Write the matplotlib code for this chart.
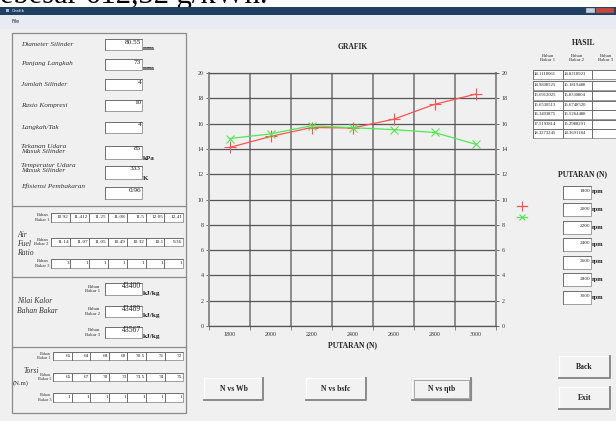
import numpy as np
import matplotlib.pyplot as plt
from matplotlib.patches import Rectangle

W, H = 616, 421
BG = '#f0f0f0'
plt.rcParams['font.family'] = ['Liberation Serif', 'DejaVu Serif']

# chart data (efisiensi vs putaran)
putaran = [1800, 2000, 2200, 2400, 2600, 2800, 3000]
eff_bb1 = [14.1110061, 14.9808525, 15.6912025, 15.6530513, 16.3403875, 17.5193814, 18.3273245]
eff_bb2 = [14.8218921, 15.1819488, 15.8330804, 15.6748520, 15.5264488, 15.2988291, 14.3691184]

# input panel values
param_labels = ['Diameter Silinder', 'Panjang Langkah', 'Jumlah Silinder', 'Rasio Kompresi',
                'Langkah/Tak', 'Tekanan Udara\nMasuk Silinder', 'Temperatur Udara\nMasuk Silinder',
                'Efisiensi Pembakaran']
param_values = ['80.55', '73', '4', '10', '4', '85', '333', '0.96']
param_units = ['mm', 'mm', '', '', '', 'kPa', 'K', '']
afr_bb1 = [10.92, 11.412, 11.25, 11.08, 11.5, 12.05, 12.41]
afr_bb2 = [11.14, 11.07, 11.05, 10.49, 10.32, 10.1, 9.36]
afr_bb3 = [3, 1, 1, 1, 1, 1, 1]
nilai_kalor = [43400, 43489, 43567]
torsi_bb1 = [65, 64, 68, 69, 70.5, 71, 72]
torsi_bb2 = [65, 67, 70, 73, 73.5, 74, 75]
torsi_bb3 = [1, 1, 1, 1, 1, 1, 1]

fig = plt.figure(figsize=(W / 100, H / 100), dpi=100, facecolor=BG)
bg = fig.add_axes([0, 0, 1, 1])
bg.set_xlim(0, W)
bg.set_ylim(H, 0)
bg.axis('off')


def box(x0, y0, x1, y1, txt='', fs=5, clip=False, ha='right'):
    r = Rectangle((x0, y0), x1 - x0, y1 - y0, fc='white', ec='#8f8f8f', lw=0.6)
    bg.add_patch(r)
    bg.plot([x0, x0, x1], [y1, y0, y0], color='#6a6a6a', lw=0.6)
    if txt:
        xt = x1 - 1 if ha == 'right' else x0 + 1
        t = bg.text(xt, y0 + (y1 - y0) * 0.45, txt, ha=ha, va='center', fontsize=fs, color='#222')
        if clip:
            t.set_clip_path(r)


def button(x0, y0, x1, y1, txt, pressed=False):
    bg.add_patch(Rectangle((x0, y0), x1 - x0, y1 - y0, fc='#f2f2f2', ec='none'))
    bg.plot([x0, x0, x1], [y1, y0, y0], color='white', lw=1.0)
    bg.plot([x0, x1, x1], [y1, y1, y0], color='#8a8a8a', lw=1.4)
    if pressed:
        bg.add_patch(Rectangle((x0, y0), x1 - x0, y1 - y0, fc='none', ec='#555', lw=0.8))
        bg.add_patch(Rectangle((x0 + 2, y0 + 2), x1 - x0 - 4, y1 - y0 - 4, fc='none', ec='#888', lw=0.5))
    bg.text((x0 + x1) / 2, (y0 + y1) / 2, txt, ha='center', va='center', fontsize=5.5, weight='bold', color='#222')


def bahan(x, y, n, fs=3.3):
    bg.text(x, y, 'Bahan\nBakar ' + str(n), ha='right', va='center', fontsize=fs, color='#333', linespacing=1.1)


# top strip with cut-off document text
bg.add_patch(Rectangle((0, 0), W, 7, fc='white', ec='none', zorder=0))
bg.text(-12, 3.5, 'sebesar 612,32 g/kWh.', fontsize=22, va='baseline', ha='left', color='black',
        zorder=1, clip_on=True)
# title bar and menu
bg.add_patch(Rectangle((0, 6.5), W, 8.5, fc='#1f4060', ec='none', zorder=2))
bg.add_patch(Rectangle((6, 9), 3, 3, fc='#9fc0e0', ec='none', zorder=3))
bg.text(12, 10.8, 'Grafik', fontsize=3.2, color='white', va='center', family='DejaVu Sans', zorder=3)
bg.add_patch(Rectangle((586, 8), 9, 5, fc='#c8d0da', ec='#556', lw=0.3, zorder=3))
bg.add_patch(Rectangle((596, 8), 18, 5, fc='#c8463c', ec='#556', lw=0.3, zorder=3))
bg.add_patch(Rectangle((0, 15), W, 14, fc='#e8ebf2', ec='none', zorder=2))
bg.text(12, 21.5, 'File', fontsize=3.5, color='#222', va='center', family='DejaVu Sans', zorder=3)

# left panel
bg.add_patch(Rectangle((12, 33), 174, 380, fc='none', ec='#8a8a8a', lw=0.9))
for ys in [206, 277, 347]:
    bg.plot([12, 186], [ys, ys], color='#8a8a8a', lw=0.9)

label_y = [44, 64, 84, 105, 127, 149, 168, 186]
box_y = [(39, 50), (59, 70), (79, 90), (100, 111), (122, 133), (146, 159), (166, 179), (187, 199)]
for lab, val, unit, ly, (y0, y1) in zip(param_labels, param_values, param_units, label_y, box_y):
    bg.text(21, ly, lab, fontsize=5.2, style='italic', va='center', color='#333', linespacing=1.2)
    bg.add_patch(Rectangle((105, y0), 37, y1 - y0, fc='white', ec='#8f8f8f', lw=0.6))
    bg.plot([105, 105, 142], [y1, y0, y0], color='#6a6a6a', lw=0.6)
    bg.text(141, y0 + 3, val, ha='right', va='center', fontsize=5.2, color='#222')
    if unit:
        bg.text(143, y1 - 1, unit, ha='left', va='center', fontsize=5, weight='bold', color='#222')


def row7(vals, y0, y1, x0=51, w=18.9):
    for i, v in enumerate(vals):
        box(x0 + i * w, y0, x0 + (i + 1) * w, y1, '{:g}'.format(v), fs=3.8)


# air fuel ratio
row7(afr_bb1, 213, 222)
row7(afr_bb2, 238, 246)
row7(afr_bb3, 259, 268)
bahan(49, 217.5, 1)
bahan(49, 242, 2)
bahan(49, 263.5, 3)
bg.text(17, 235, 'Air', fontsize=5.5, style='italic', va='center', color='#333')
bg.text(17, 244, 'Fuel', fontsize=5.5, style='italic', va='center', color='#333')
bg.text(17, 253, 'Ratio', fontsize=5.5, style='italic', va='center', color='#333')

# nilai kalor
for k, (v, (y0, y1)) in enumerate(zip(nilai_kalor, [(283, 295), (306, 317), (327, 338)])):
    bahan(100, (y0 + y1) / 2, k + 1, fs=3.5)
    box(105, y0, 142, y1)
    bg.text(141, y0 + 3, str(v), ha='right', va='center', fontsize=5.5, color='#222')
    bg.text(143, y1 - 1.5, 'kJ/kg', ha='left', va='center', fontsize=5.3, weight='bold', color='#222')
bg.text(17, 306, 'Nilai Kalor\nBahan Bakar', fontsize=5.5, style='italic', va='center', color='#333', linespacing=1.2)

# torsi
row7(torsi_bb1, 352, 360, x0=53, w=18.6)
row7(torsi_bb2, 373, 381, x0=53, w=18.6)
row7(torsi_bb3, 393, 402, x0=53, w=18.6)
bahan(51, 356, 1, fs=3.1)
bahan(51, 377, 2, fs=3.1)
bahan(51, 397.5, 3, fs=3.1)
bg.text(24, 371, 'Torsi', fontsize=5.5, style='italic', va='center', color='#333')
bg.text(13, 383, '(N.m)', fontsize=4.8, va='center', color='#333')

# chart
ax = fig.add_axes([209 / W, 1 - 326 / H, (496 - 209) / W, (326 - 73) / H])
ax.set_facecolor(BG)
x = np.arange(len(putaran)) + 0.5
l1, = ax.plot(x, eff_bb1, color='#ff5252', marker='+', ms=8, mew=0.8, lw=0.9, zorder=3)
l2, = ax.plot(x, eff_bb2, color='#52e852', marker='x', ms=5.5, mew=0.8, lw=0.9, zorder=3)
ax.set_xlim(0, 7)
ax.set_ylim(0, 20)
ax.set_xticks(x)
ax.set_xticklabels([str(p) for p in putaran])
ax.set_xticks(range(8), minor=True)
ax.tick_params(axis='x', which='major', length=0, labelsize=4.3, pad=4, colors='#333')
ax.tick_params(axis='x', which='minor', length=3, width=0.6, color='#777')
ax.set_yticks(range(0, 21, 2))
ax.tick_params(axis='y', left=True, right=True, labelleft=True, labelright=True,
               length=2, width=0.5, labelsize=4.3, pad=2, colors='#333')
ax.grid(which='minor', axis='x', color='#8c8c8c', lw=1.4)
ax.grid(which='major', axis='y', color='#555555', lw=0.9)
ax.grid(which='major', axis='x', visible=False)
for s in ['left', 'right']:
    ax.spines[s].set_color('#8c8c8c')
    ax.spines[s].set_linewidth(1.4)
for s in ['top', 'bottom']:
    ax.spines[s].set_color('#555555')
    ax.spines[s].set_linewidth(0.9)
ax.set_xlabel('PUTARAN (N)', fontsize=5.5, weight='bold', labelpad=3, color='#222')
ax.set_title('GRAFIK', fontsize=5.5, weight='bold', pad=17, color='#222')
ax.legend([l1, l2], ['', ''], loc='upper left', bbox_to_anchor=(511 / W, 1 - 197 / H),
          bbox_transform=fig.transFigure, frameon=False, handlelength=1.4, handletextpad=0,
          labelspacing=0.75, fontsize=5, markerscale=0.85)

# right panel: hasil table
bg.text(584, 43, 'HASIL', ha='center', va='center', fontsize=5.5, weight='bold', color='#222')
for cx, n in [(548, 1), (577, 2), (606, 3)]:
    bg.text(cx, 58, 'Bahan\nBakar ' + str(n), ha='center', va='center', fontsize=3.5,
            color='#333', linespacing=1.1)
row_y = [74, 85, 95, 105, 114, 124, 133]
for y, a, b in zip(row_y, eff_bb1, eff_bb2):
    box(533, y - 4.5, 563, y + 4.5, '{:.7f}'.format(a), fs=3.4, clip=True, ha='left')
    box(563, y - 4.5, 592, y + 4.5, '{:.7f}'.format(b), fs=3.4, clip=True, ha='left')
    box(592, y - 4.5, 622, y + 4.5)

bg.text(583, 174, 'PUTARAN (N)', ha='center', va='center', fontsize=5.5, weight='bold', color='#222')
for k, p in enumerate(putaran):
    yc = 192 + k * 17.5
    box(563, yc - 6.5, 591, yc + 6.5)
    bg.text(590, yc - 1, str(p), ha='right', va='center', fontsize=3.8, color='#333')
    bg.text(592, yc, 'rpm', ha='left', va='center', fontsize=4.6, weight='bold', color='#222')

button(559, 356, 610, 378, 'Back')
button(559, 387, 610, 409, 'Exit')
button(204, 378, 263, 400, 'N vs Wb')
button(306, 378, 366, 400, 'N vs bsfc')
button(412, 378, 471, 400, 'N vs ηtb', pressed=True)

fig.savefig('out.png', dpi=100, facecolor=BG)
